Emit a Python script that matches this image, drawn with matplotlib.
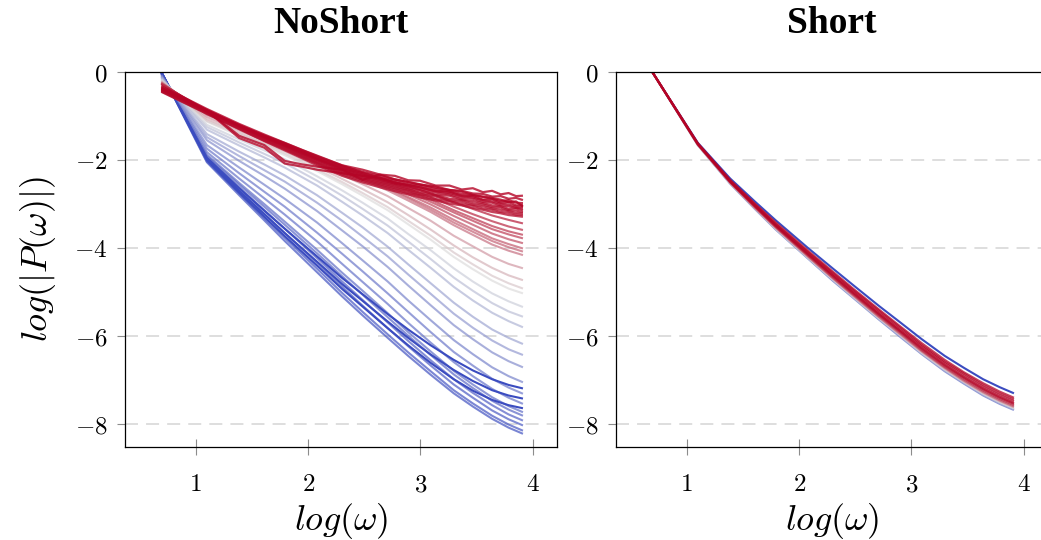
import numpy as np
import matplotlib
matplotlib.use("Agg")
import matplotlib.pyplot as plt
from matplotlib.colors import LinearSegmentedColormap

plt.rcParams["mathtext.fontset"] = "cm"
plt.rcParams["font.family"] = ["DejaVu Serif"]

# ---------------------------------------------------------------- data
panel_titles = ["NoShort", "Short"]
x_label = r"$log(\omega)$"
y_label = r"$log(|P(\omega)|)$"
x_ticks = [1, 2, 3, 4]
y_ticks = [0, -2, -4, -6, -8]

# frequencies at which the spectra are sampled
omega_main = [2, 3, 4, 5, 6, 8, 10, 12, 15, 18, 22, 27, 32, 38, 44, 50]
omega_fine = [2, 3, 4, 5, 6, 7, 8, 10, 12, 14, 16, 18, 20, 23, 26, 29, 32,
              35, 38, 41, 44, 47, 50]

# NoShort: steepest spectra (bottom bundle)
noshort_blue = [
    [0.00, -2.05, -2.80, -3.37, -3.84, -4.55, -5.10, -5.53, -6.04, -6.45, -6.88, -7.30, -7.60, -7.88, -8.08, -8.22],
    [0.00, -2.03, -2.76, -3.32, -3.77, -4.47, -5.02, -5.45, -5.96, -6.37, -6.80, -7.23, -7.53, -7.81, -8.01, -8.15],
    [-0.01, -1.98, -2.69, -3.22, -3.66, -4.34, -4.88, -5.31, -5.82, -6.23, -6.67, -7.10, -7.40, -7.69, -7.89, -8.03],
    [-0.02, -1.94, -2.62, -3.14, -3.56, -4.23, -4.76, -5.18, -5.69, -6.11, -6.55, -6.98, -7.29, -7.57, -7.78, -7.92],
    [-0.02, -1.91, -2.56, -3.06, -3.47, -4.12, -4.64, -5.06, -5.57, -5.99, -6.43, -6.87, -7.18, -7.47, -7.67, -7.81],
    [-0.03, -1.88, -2.52, -3.00, -3.40, -4.04, -4.56, -4.97, -5.48, -5.91, -6.35, -6.79, -7.10, -7.39, -7.59, -7.73],
    [-0.04, -1.82, -2.42, -2.87, -3.24, -3.85, -4.36, -4.77, -5.27, -5.70, -6.15, -6.59, -6.91, -7.20, -7.40, -7.54],
    [-0.05, -1.74, -2.30, -2.72, -3.06, -3.65, -4.13, -4.53, -5.03, -5.45, -5.91, -6.36, -6.67, -6.97, -7.17, -7.31],
]
noshort_blue_level = [0.02, 0.03, 0.05, 0.07, 0.09, 0.11, 0.13, 0.15]

# NoShort: the three darkest spectra (flatter tails)
noshort_dark = [
    [0.00, -1.95, -2.64, -3.15, -3.56, -4.19, -4.68, -5.05, -5.50, -5.85, -6.21, -6.54, -6.78, -6.98, -7.11, -7.19],
    [0.00, -1.98, -2.70, -3.23, -3.66, -4.31, -4.82, -5.20, -5.67, -6.04, -6.42, -6.77, -7.02, -7.23, -7.35, -7.42],
    [0.00, -2.00, -2.74, -3.29, -3.73, -4.40, -4.93, -5.33, -5.82, -6.21, -6.61, -6.98, -7.24, -7.45, -7.57, -7.64],
]
noshort_dark_level = [0.0, 0.0, 0.0]

noshort_lightblue = [
    [-0.07, -1.66, -2.17, -2.56, -2.88, -3.42, -3.89, -4.28, -4.76, -5.19, -5.64, -6.09, -6.41, -6.71, -6.91, -7.05],
    [-0.09, -1.55, -2.02, -2.36, -2.65, -3.16, -3.60, -3.96, -4.43, -4.85, -5.30, -5.75, -6.07, -6.37, -6.57, -6.71],
    [-0.11, -1.48, -1.91, -2.23, -2.49, -2.97, -3.38, -3.74, -4.19, -4.60, -5.04, -5.49, -5.81, -6.10, -6.30, -6.43],
    [-0.12, -1.41, -1.81, -2.10, -2.35, -2.80, -3.20, -3.53, -3.97, -4.37, -4.80, -5.24, -5.56, -5.85, -6.04, -6.18],
    [-0.14, -1.31, -1.67, -1.94, -2.17, -2.58, -2.95, -3.26, -3.66, -4.04, -4.45, -4.88, -5.19, -5.47, -5.66, -5.80],
    [-0.16, -1.25, -1.60, -1.86, -2.07, -2.47, -2.81, -3.11, -3.49, -3.85, -4.25, -4.67, -4.97, -5.25, -5.44, -5.56],
]
noshort_lightblue_level = [0.19, 0.23, 0.27, 0.31, 0.36, 0.40]

noshort_gray = [
    [-0.17, -1.20, -1.53, -1.78, -1.98, -2.37, -2.69, -2.97, -3.33, -3.68, -4.05, -4.46, -4.76, -5.03, -5.21, -5.34],
    [-0.19, -1.13, -1.45, -1.69, -1.89, -2.25, -2.55, -2.81, -3.14, -3.46, -3.81, -4.20, -4.48, -4.74, -4.92, -5.03],
    [-0.20, -1.11, -1.42, -1.66, -1.85, -2.21, -2.50, -2.75, -3.07, -3.38, -3.72, -4.10, -4.37, -4.63, -4.80, -4.92],
    [-0.21, -1.07, -1.38, -1.62, -1.80, -2.15, -2.43, -2.66, -2.96, -3.25, -3.58, -3.94, -4.21, -4.45, -4.62, -4.73],
    [-0.22, -1.02, -1.33, -1.56, -1.74, -2.07, -2.34, -2.55, -2.82, -3.09, -3.38, -3.72, -3.96, -4.20, -4.36, -4.46],
]
noshort_gray_level = [0.45, 0.50, 0.55, 0.60, 0.66]

noshort_pink = [
    [-0.24, -0.97, -1.28, -1.51, -1.69, -2.00, -2.25, -2.45, -2.69, -2.92, -3.18, -3.48, -3.70, -3.92, -4.06, -4.16],
    [-0.25, -0.96, -1.27, -1.50, -1.68, -1.99, -2.23, -2.42, -2.65, -2.87, -3.13, -3.42, -3.63, -3.84, -3.98, -4.08],
    [-0.25, -0.95, -1.26, -1.49, -1.67, -1.98, -2.21, -2.40, -2.63, -2.84, -3.08, -3.36, -3.57, -3.78, -3.91, -4.01],
    [-0.26, -0.93, -1.24, -1.48, -1.65, -1.96, -2.19, -2.37, -2.58, -2.78, -3.01, -3.27, -3.47, -3.67, -3.80, -3.89],
    [-0.26, -0.92, -1.23, -1.46, -1.64, -1.94, -2.17, -2.34, -2.55, -2.73, -2.95, -3.19, -3.38, -3.57, -3.69, -3.78],
    [-0.27, -0.91, -1.22, -1.46, -1.63, -1.93, -2.16, -2.33, -2.52, -2.70, -2.90, -3.14, -3.32, -3.50, -3.62, -3.70],
    [-0.27, -0.89, -1.21, -1.45, -1.63, -1.92, -2.14, -2.30, -2.49, -2.65, -2.84, -3.06, -3.23, -3.39, -3.51, -3.59],
    [-0.28, -0.88, -1.20, -1.44, -1.61, -1.91, -2.12, -2.28, -2.45, -2.60, -2.76, -2.96, -3.11, -3.26, -3.36, -3.44],
]
noshort_pink_level = [0.73, 0.76, 0.78, 0.81, 0.84, 0.86, 0.89, 0.92]

# NoShort: flattest (noisiest) spectra, sampled on the fine grid
noshort_red = [
    [-0.45, -0.95, -1.30, -1.57, -1.78, -1.96, -2.12, -2.36, -2.51, -2.62, -2.71, -2.78, -2.85, -2.92, -2.99, -3.03, -3.09, -3.13, -3.18, -3.21, -3.25, -3.27, -3.29],
    [-0.44, -0.94, -1.29, -1.56, -1.76, -1.94, -2.09, -2.33, -2.48, -2.58, -2.67, -2.75, -2.80, -2.89, -2.94, -3.00, -3.04, -3.10, -3.13, -3.18, -3.20, -3.24, -3.25],
    [-0.43, -0.93, -1.28, -1.54, -1.74, -1.92, -2.07, -2.30, -2.45, -2.55, -2.64, -2.70, -2.78, -2.83, -2.92, -2.95, -3.02, -3.05, -3.10, -3.13, -3.16, -3.20, -3.21],
    [-0.42, -0.92, -1.27, -1.53, -1.72, -1.90, -2.05, -2.28, -2.42, -2.52, -2.60, -2.67, -2.74, -2.80, -2.88, -2.91, -2.98, -3.01, -3.07, -3.08, -3.14, -3.15, -3.18],
    [-0.41, -0.91, -1.26, -1.51, -1.70, -1.88, -2.03, -2.25, -2.39, -2.49, -2.56, -2.64, -2.69, -2.79, -2.81, -2.90, -2.93, -2.98, -3.03, -3.05, -3.11, -3.10, -3.14],
    [-0.40, -0.90, -1.24, -1.49, -1.68, -1.86, -2.00, -2.22, -2.36, -2.45, -2.54, -2.60, -2.66, -2.74, -2.78, -2.86, -2.88, -2.95, -2.97, -3.03, -3.05, -3.09, -3.10],
    [-0.39, -0.89, -1.23, -1.48, -1.67, -1.84, -1.98, -2.20, -2.33, -2.43, -2.51, -2.58, -2.62, -2.71, -2.75, -2.82, -2.85, -2.91, -2.94, -2.99, -3.01, -3.06, -3.06],
    [-0.37, -0.87, -1.45, -1.66, -2.02, -2.10, -2.15, -2.22, -2.45, -2.33, -2.44, -2.50, -2.55, -2.63, -2.68, -2.72, -2.79, -2.83, -2.86, -2.90, -2.96, -2.94, -3.06],
    [-0.38, -0.88, -1.50, -1.72, -2.08, -2.15, -2.22, -2.30, -2.36, -2.40, -2.52, -2.56, -2.62, -2.70, -2.72, -2.81, -2.82, -2.90, -2.89, -2.97, -2.95, -3.03, -3.02],
    [-0.36, -0.87, -1.22, -1.47, -1.66, -1.82, -1.97, -2.18, -2.30, -2.41, -2.47, -2.55, -2.58, -2.66, -2.71, -2.77, -2.80, -2.84, -2.88, -2.93, -2.91, -2.97, -2.98],
    [-0.34, -0.86, -1.21, -1.45, -1.63, -1.80, -1.94, -2.14, -2.27, -2.36, -2.44, -2.50, -2.56, -2.60, -2.68, -2.70, -2.76, -2.77, -2.83, -2.82, -2.88, -2.86, -2.91],
    [-0.32, -0.84, -1.18, -1.42, -1.61, -1.77, -1.90, -2.12, -2.22, -2.33, -2.36, -2.46, -2.47, -2.58, -2.58, -2.67, -2.64, -2.73, -2.70, -2.78, -2.75, -2.82, -2.81],
]
noshort_red_level = [0.96, 0.97, 0.97, 0.98, 0.98, 0.99, 0.99, 1.0, 1.0, 1.0, 1.0, 1.0]

# Short: all spectra nearly coincide
short_curves = [
    [0.00, -1.61, -2.42, -2.95, -3.37, -4.00, -4.47, -4.85, -5.31, -5.67, -6.07, -6.45, -6.72, -6.98, -7.16, -7.30],
    [0.00, -1.66, -2.54, -3.12, -3.58, -4.24, -4.75, -5.14, -5.62, -6.00, -6.41, -6.80, -7.08, -7.35, -7.54, -7.68],
    [0.00, -1.66, -2.53, -3.11, -3.57, -4.23, -4.73, -5.13, -5.61, -5.98, -6.40, -6.78, -7.06, -7.33, -7.52, -7.66],
    [0.00, -1.66, -2.53, -3.10, -3.56, -4.22, -4.72, -5.11, -5.59, -5.96, -6.38, -6.76, -7.04, -7.31, -7.50, -7.64],
    [0.00, -1.66, -2.52, -3.10, -3.55, -4.21, -4.70, -5.10, -5.57, -5.95, -6.36, -6.74, -7.03, -7.29, -7.48, -7.62],
    [0.00, -1.65, -2.51, -3.09, -3.53, -4.19, -4.69, -5.08, -5.56, -5.93, -6.34, -6.72, -7.01, -7.27, -7.46, -7.60],
    [0.00, -1.65, -2.51, -3.07, -3.52, -4.17, -4.67, -5.06, -5.53, -5.90, -6.32, -6.70, -6.98, -7.24, -7.43, -7.57],
    [0.00, -1.64, -2.50, -3.06, -3.50, -4.15, -4.64, -5.04, -5.51, -5.88, -6.29, -6.67, -6.95, -7.21, -7.40, -7.54],
    [0.00, -1.64, -2.49, -3.05, -3.49, -4.14, -4.63, -5.02, -5.49, -5.86, -6.27, -6.65, -6.93, -7.19, -7.38, -7.52],
    [0.00, -1.63, -2.48, -3.03, -3.47, -4.11, -4.60, -4.99, -5.46, -5.83, -6.23, -6.61, -6.89, -7.15, -7.34, -7.48],
    [0.00, -1.63, -2.47, -3.01, -3.45, -4.09, -4.57, -4.96, -5.42, -5.79, -6.20, -6.58, -6.85, -7.11, -7.30, -7.44],
    [0.00, -1.62, -2.45, -3.00, -3.42, -4.06, -4.54, -4.93, -5.39, -5.76, -6.16, -6.54, -6.82, -7.07, -7.26, -7.40],
]
short_level = [0.0, 0.15, 0.35, 0.5, 0.65, 0.8, 0.9, 0.95, 1.0, 1.0, 1.0, 1.0]

# ---------------------------------------------------------------- style
cmap = LinearSegmentedColormap.from_list(
    "bwr_soft", [(59 / 255, 76 / 255, 192 / 255),
                 (221 / 255, 221 / 255, 221 / 255),
                 (180 / 255, 4 / 255, 38 / 255)])

W, H = 1041, 540
fig = plt.figure(figsize=(W / 100, H / 100), dpi=100)
ax_l = fig.add_axes([125 / W, 1 - 447 / H, 432 / W, 375 / H])
ax_r = fig.add_axes([616 / W, 1 - 447 / H, 432 / W, 375 / H])


def draw_group(ax, omega, curves, levels, alpha, lw=1.5):
    x = np.log(omega)
    for y, t in zip(curves, levels):
        ax.plot(x, y, color=cmap(t), alpha=alpha, lw=lw,
                solid_joinstyle="round", solid_capstyle="butt", zorder=2)


draw_group(ax_l, omega_main, noshort_blue, noshort_blue_level, 0.7)
draw_group(ax_l, omega_main, noshort_dark, noshort_dark_level, 1.0)
draw_group(ax_l, omega_main, noshort_lightblue, noshort_lightblue_level, 0.7)
draw_group(ax_l, omega_main, noshort_gray, noshort_gray_level, 0.7)
draw_group(ax_l, omega_main, noshort_pink, noshort_pink_level, 0.75)
draw_group(ax_l, omega_fine, noshort_red, noshort_red_level, 0.8, lw=1.6)

draw_group(ax_r, omega_main, short_curves[:1], short_level[:1], 1.0)
draw_group(ax_r, omega_main, short_curves[1:], short_level[1:], 0.75)

for ax, title in zip((ax_l, ax_r), panel_titles):
    ax.set_xlim(0.37, 4.215)
    ax.set_ylim(-8.52, 0)
    ax.set_xticks(x_ticks)
    ax.set_xticklabels([f"${v}$" for v in x_ticks], fontsize=18)
    ax.set_yticks(y_ticks)
    ax.set_yticklabels([f"${v}$" for v in y_ticks], fontsize=18)
    ax.tick_params(axis="x", direction="inout", length=12, width=0.8,
                   color="#8c8c8c", pad=13)
    ax.tick_params(axis="y", direction="out", length=5.5, width=0.8,
                   color="#8c8c8c", pad=7)
    ax.set_axisbelow(True)
    ax.yaxis.grid(True, color="#d4d4d4", linewidth=1.1,
                  linestyle=(0, (8.5, 5.3)))
    for sp in ax.spines.values():
        sp.set_linewidth(0.9)
        sp.set_color("black")
    ax.set_title(title, fontsize=27, fontweight="bold",
                 family="Liberation Serif", pad=28)
    ax.set_xlabel(x_label, fontsize=26, labelpad=3)

ax_l.set_ylabel(y_label, fontsize=26, labelpad=12)

fig.savefig("out.png", dpi=100)
